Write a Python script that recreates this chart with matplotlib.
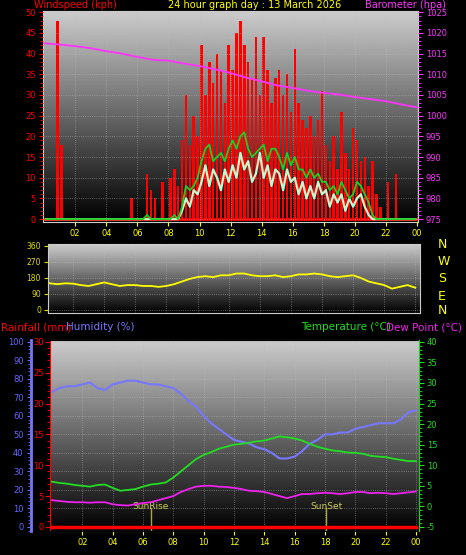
import numpy as np
import matplotlib
matplotlib.use("Agg")
import matplotlib.pyplot as plt
from matplotlib.ticker import MultipleLocator

plt.rcParams["axes.unicode_minus"] = False
W, H = 466, 555

# ---- data ----
q_hours = np.arange(96) * 0.25 + 0.125
gust = [0, 0, 0, 48, 18, 0, 0, 0, 0, 0, 0, 0, 0, 0, 0, 0, 0, 0, 0, 0, 0, 0, 5, 0,
        0, 0, 11, 7, 5, 0, 9, 0, 10, 12, 8, 19, 30, 18, 25, 20, 42, 30, 38, 33,
        40, 36, 28, 42, 36, 45, 48, 42, 38, 34, 44, 30, 44, 36, 28, 34, 36, 30, 35, 26,
        41, 28, 24, 22, 25, 20, 24, 31, 18, 14, 20, 12, 26, 16, 12, 22, 19, 14, 15, 8,
        14, 6, 3, 0, 9, 0, 11, 0, 0, 0, 0, 0]
avg_speed = [0] * 24 + [0, 0, 1, 0, 0, 0, 0, 0, 0, 1, 0, 3, 8, 7, 8, 10, 14, 17, 18, 14,
             15, 16, 14, 17, 19, 17, 20, 21, 17, 15, 16, 17, 18, 14, 17, 17, 15, 12, 16, 13,
             15, 12, 12, 10, 12, 10, 11, 9, 9, 7, 8, 6, 9, 7, 5, 6, 9, 8, 6, 4,
             1, 0, 0, 0, 0, 0, 0, 0, 0, 0, 0, 0]
wind_speed = [0] * 32 + [0, 0, 0, 2, 5, 3, 7, 6, 9, 13, 8, 12, 10, 7, 12, 9,
              13, 10, 16, 12, 14, 9, 11, 16, 10, 13, 8, 12, 11, 7, 12, 9,
              10, 6, 9, 5, 8, 5, 9, 6, 7, 3, 6, 4, 6, 2, 5, 3, 5, 6, 3, 1] + [0] * 12
baro_hours = np.arange(25)
baro = [1017.5, 1017.2, 1016.8, 1016.3, 1015.6, 1015.0, 1014.2, 1013.5, 1013.3, 1012.6,
        1012.0, 1011.2, 1010.3, 1009.2, 1008.3, 1007.3, 1006.7, 1006.0, 1005.5, 1005.1,
        1004.5, 1004.0, 1003.5, 1002.7, 1002.0]

h_hours = np.arange(49) * 0.5
direction = [165, 150, 145, 150, 148, 140, 135, 145, 155, 145, 135, 140, 140, 135, 135, 130,
             135, 145, 160, 175, 185, 190, 185, 195, 195, 205, 205, 195, 190, 190, 195, 185,
             190, 200, 200, 205, 200, 190, 185, 190, 195, 180, 160, 150, 140, 120, 130, 140, 125]
humidity = [73, 75, 76, 76, 77, 78, 75, 74, 77, 78, 79, 79, 78, 77, 77, 76, 75, 72, 68, 65,
            60, 56, 53, 50, 47, 46, 45, 43, 42, 40, 37, 37, 38, 41, 45, 47, 50, 50, 51, 51,
            53, 54, 55, 56, 56, 56, 58, 62, 63]
temperature = [6, 5.7, 5.5, 5.2, 5, 4.8, 5.2, 5.3, 4.5, 3.8, 4, 4.2, 4.8, 5.3, 5.5, 5.8,
               7, 8.5, 10, 11.5, 12.5, 13.2, 14, 14.5, 15, 15.2, 15.5, 15.8, 16, 16.5, 17, 16.8,
               16.5, 16, 15.2, 14.5, 14, 13.6, 13.4, 13.1, 13, 12.8, 12.3, 12.1, 12, 11.6,
               11.3, 11.0, 11.0]
dewpoint = [1.5, 1.3, 1.1, 1, 1, 0.9, 1, 1, 0.5, 0.3, 0.2, 0.5, 0.8, 1, 1.5, 2, 2.5, 3.5,
            4.2, 4.8, 5, 5, 4.8, 4.7, 4.5, 4.2, 3.8, 3.7, 3.5, 3, 2.5, 2, 2.5, 3, 3, 3.2,
            3.3, 3.2, 3.0, 3.2, 3.5, 3.5, 3.2, 3.3, 3.2, 3, 3.2, 3.4, 3.6]
rainfall = [0] * 49
sunrise, sunset = 6.5, 18.1
hour_ticks = list(range(2, 25, 2))
hour_labels = ["%02d" % (h % 24) for h in hour_ticks]

fig = plt.figure(figsize=(W / 100, H / 100), dpi=100, facecolor="black")


def rect(l, t, r, b):
    return [l / W, 1 - b / H, (r - l) / W, (b - t) / H]


def panel(ax):
    ax.set_facecolor("black")
    grad = np.linspace(0.8, 0.0, 256).reshape(-1, 1)
    ax.imshow(grad, cmap="gray", vmin=0, vmax=1, aspect="auto",
              extent=[0, 1, 0, 1], transform=ax.transAxes, zorder=0)
    ax.grid(True, color="#bbbbbb", linestyle=":", linewidth=0.6, alpha=0.6)
    ax.set_axisbelow(False)
    for s in ax.spines.values():
        s.set_color("#cccccc")
    ax.tick_params(labelsize=6, length=3, pad=2)
    ax.set_xticks(hour_ticks)


# ---- top: wind + barometer ----
ax1 = fig.add_axes(rect(43, 11, 418, 222))
panel(ax1)
ax1.set_xlim(-0.07, 24.05)
ax1.set_ylim(-0.7, 50.3)
ax1.bar(q_hours, gust, width=0.16, color="red", zorder=2)
ax1.plot([0, 24], [0, 0], color="red", lw=2, zorder=2)
ax1.plot(q_hours, wind_speed, color="#ccf5cc", lw=1.6, zorder=3)
ax1.plot(q_hours, avg_speed, color="#22cc22", lw=1.3, zorder=4)
ax1.set_yticks(range(0, 51, 5))
ax1.yaxis.set_minor_locator(MultipleLocator(1))
ax1.tick_params(axis="y", colors="red", which="both")
ax1.tick_params(axis="x", colors="yellow")
ax1.set_xticklabels(hour_labels)
ax1b = ax1.twinx()
ax1b.set_ylim(975 - 0.7, 1025.3)
ax1b.plot(baro_hours, baro, color="#ff33ff", lw=1.3, zorder=5)
ax1b.set_yticks(range(975, 1026, 5))
ax1b.yaxis.set_minor_locator(MultipleLocator(1))
ax1b.tick_params(axis="y", colors="#ff33ff", which="both", labelsize=6, pad=2)
for s in ax1b.spines.values():
    s.set_visible(False)

fig.text(34 / W, 1 - 5 / H, "Windspeed (kph)", color="red", fontsize=7, va="center")
fig.text(255 / W, 1 - 5 / H, "24 hour graph day : 13 March 2026", color="yellow",
         fontsize=7, va="center", ha="center")
fig.text(446 / W, 1 - 5 / H, "Barometer (hpa)", color="#ff33ff", fontsize=7,
         va="center", ha="right")

# ---- middle: wind direction ----
ax2 = fig.add_axes(rect(48, 244, 420, 313))
panel(ax2)
ax2.set_xlim(0.39, 24.3)
ax2.set_ylim(-17, 371)
ax2.plot(h_hours, direction, color="yellow", lw=1.3)
ax2.set_yticks([0, 90, 180, 270, 360])
ax2.tick_params(axis="y", colors="#dddd00", labelsize=5.5)
ax2.tick_params(axis="x", labelbottom=False, length=0)
for letter, y in zip("NWSEN", [245, 261, 279, 296, 311]):
    fig.text(438 / W, 1 - y / H, letter, color="yellow", fontsize=9, va="center")

# ---- bottom: humidity, rain, temperature, dew point ----
ax3 = fig.add_axes(rect(50, 340, 419, 531))
panel(ax3)
ax3.set_xlim(-0.13, 24.2)
ax3.set_ylim(-2.2, 101)
ax3.plot(h_hours, humidity, color="#7777ff", lw=1.5, zorder=3)
ax3.spines["left"].set_position(("outward", 14))
ax3.spines["left"].set_color("#7777ff")
ax3.spines["left"].set_linewidth(2)
ax3.set_yticks(range(0, 101, 10))
ax3.yaxis.set_minor_locator(MultipleLocator(2))
ax3.tick_params(axis="y", colors="#6666ff", which="both", labelsize=6)
ax3.tick_params(axis="x", colors="yellow")
ax3.set_xticklabels(hour_labels)
for t, name in [(sunrise, "SunRise"), (sunset, "SunSet")]:
    ax3.axvline(t, ymin=0, ymax=0.12, color="#aaaa33", lw=1, zorder=4)
    ax3.text(t, 9.5, name, color="#cccc55", fontsize=6.5, ha="center", zorder=4)

ax3r = ax3.twinx()
ax3r.spines["left"].set_visible(True)
ax3r.spines["left"].set_color("red")
ax3r.spines["right"].set_visible(False)
ax3r.yaxis.set_ticks_position("left")
ax3r.set_ylim(-2.2 * 0.3, 30.3)
ax3r.plot(h_hours, rainfall, color="red", lw=2.5, zorder=5)
ax3r.set_yticks(range(0, 31, 5))
ax3r.yaxis.set_minor_locator(MultipleLocator(1))
ax3r.tick_params(axis="y", colors="red", which="both", labelsize=6, pad=1)

ax3t = ax3.twinx()
for s in ["left", "top", "bottom"]:
    ax3t.spines[s].set_visible(False)
ax3t.spines["right"].set_color("#22cc22")
ax3t.set_ylim(-5 - 2.2 * 0.45, 40.45)
ax3t.plot(h_hours, temperature, color="#22dd22", lw=1.3, zorder=5)
ax3t.plot(h_hours, dewpoint, color="#ee22ee", lw=1.3, zorder=5)
ax3t.set_yticks(range(-5, 41, 5))
ax3t.yaxis.set_minor_locator(MultipleLocator(1))
ax3t.tick_params(axis="y", colors="#22dd22", which="both", labelsize=6, pad=2)

fig.text(1 / W, 1 - 327 / H, "Rainfall (mm)", color="red", fontsize=7.5, va="center")
fig.text(66 / W, 1 - 327 / H, "Humidity (%)", color="#7777ff", fontsize=7.5, va="center")
fig.text(391 / W, 1 - 327 / H, "Temperature (\u00b0C)", color="#22dd22", fontsize=7.5,
         va="center", ha="right")
fig.text(462 / W, 1 - 327 / H, "Dew Point (\u00b0C)", color="#ee22ee", fontsize=7.5,
         va="center", ha="right")

fig.savefig("out.png", dpi=100, facecolor="black")
